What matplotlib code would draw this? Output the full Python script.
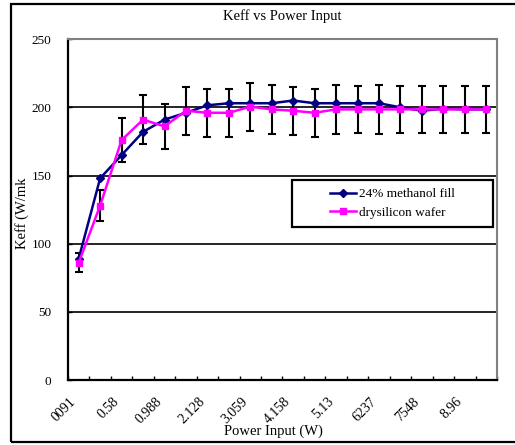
import matplotlib
matplotlib.use("Agg")
import matplotlib.pyplot as plt
from matplotlib.patches import Rectangle
import numpy as np

plt.rcParams['font.family'] = ['Liberation Serif', 'DejaVu Serif']

# datos
power_labels = ['0091', '0.58', '0.988', '2.128', '3.059', '4.158', '5.13', '6237', '7548', '8.96']
methanol = [89, 148, 165, 182, 191, 196, 201.5, 203, 203, 203,
            205, 203, 203, 203, 203, 200, 197.5, 199, 198.5, 198.5]
dry_wafer = [86, 128, 176, 191, 186, 197.5, 196, 196, 200.5, 198.5,
             197.5, 196, 198.5, 198.5, 198.5, 198.5, 198.5, 198.5, 198.5, 198.5]
dry_err = [7, 11.5, 16, 18, 16.5, 17.7, 17.7, 17.7, 17.5, 17.7,
           17.5, 17.7, 18, 17.5, 18, 17.5, 17.5, 17.5, 17.5, 17.5]

n = len(methanol)
x = np.arange(n)

fig = plt.figure(figsize=(5.15, 4.45), dpi=100)
ax = fig.add_axes([0.132, 0.146, 0.833, 0.766])

# marco exterior de la figura
fig.patches.append(Rectangle((0.021, 0.007), 1.0, 0.984, transform=fig.transFigure,
                             fill=False, ec='black', lw=1.6, zorder=0))

for yy in [50, 100, 150, 200]:
    ax.axhline(yy, color='black', lw=1.2, zorder=1)

ax.errorbar(x, dry_wafer, yerr=dry_err, fmt='none', ecolor='black', elinewidth=1.5,
            capsize=3, capthick=1.5, zorder=2)
ax.plot(x, methanol, color='#000080', lw=1.8, marker='D', ms=4.5, zorder=3,
        label='24% methanol fill')
ax.plot(x, dry_wafer, color='#FF00FF', lw=1.8, marker='s', ms=4.5, zorder=3,
        label='drysilicon wafer')

ax.set_xlim(-0.5, n - 0.5)
ax.set_ylim(0, 250)
ax.set_yticks([0, 50, 100, 150, 200, 250])
ax.tick_params(axis='y', direction='in', length=3, width=1, labelsize=9.5, pad=12)

ax.set_xticks(x[::2])
ax.set_xticklabels(power_labels, rotation=45, ha='right', va='top', fontsize=10)
ax.set_xticks(np.arange(n + 1) - 0.5, minor=True)
ax.tick_params(axis='x', which='major', length=0, pad=11)
ax.tick_params(axis='x', which='minor', direction='in', length=3, width=1)

for s in ['left', 'bottom']:
    ax.spines[s].set_linewidth(1.6)
    ax.spines[s].set_color('black')
for s in ['top', 'right']:
    ax.spines[s].set_linewidth(1.5)
    ax.spines[s].set_color('#808080')

ax.set_title('Keff vs Power Input', fontsize=10.5, pad=14)
ax.set_xlabel('Power Input (W)', fontsize=10.5)
ax.xaxis.set_label_coords(0.48, -0.13)
ax.set_ylabel('Keff (W/mk', fontsize=10.5)
ax.yaxis.set_label_coords(-0.09, 0.49)

# caja de la leyenda
ax.add_patch(Rectangle((0.522, 0.449), 0.469, 0.138, transform=ax.transAxes,
                       fc='white', ec='black', lw=1.6, zorder=4.5))
ax.legend(loc='center', bbox_to_anchor=(0.756, 0.518), frameon=False, fontsize=9.5,
          handlelength=2.0, handletextpad=0.2, labelspacing=0.45)

plt.savefig('out.png', dpi=100)
